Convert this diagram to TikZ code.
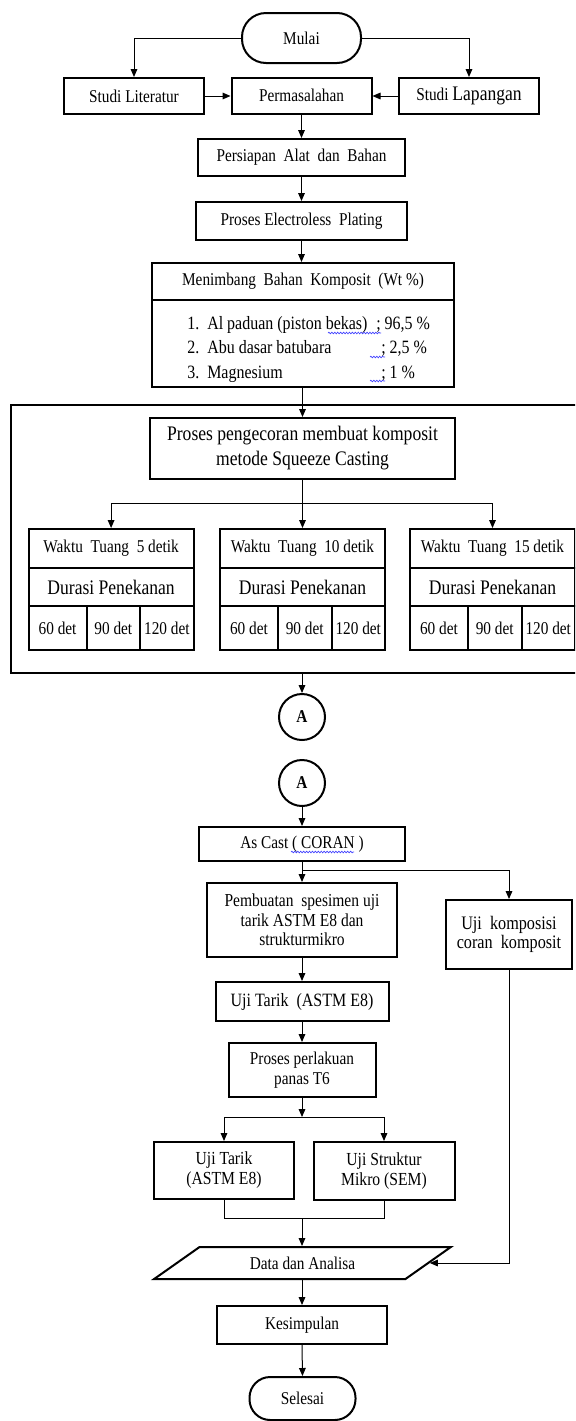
\documentclass[tikz,border=0pt]{standalone}
\usepackage{fontspec}
\setmainfont{Liberation Serif}[FakeStretch=0.85]
\usetikzlibrary{arrows.meta,shapes.geometric,calc,decorations.pathmorphing}
\begin{document}
\begin{tikzpicture}[x=0.75pt,y=-0.75pt,
  sz/.style 2 args={minimum width=#1*0.75pt, minimum height=#2*0.75pt},
  txt/.style={font=\fontsize{13.5pt}{15pt}\selectfont},
  big/.style={font=\fontsize{15.5pt}{18.75pt}\selectfont},
  lst/.style={font=\fontsize{14.1pt}{16pt}\selectfont, inner sep=0pt},
  box/.style={draw, line width=1.5pt, align=center, inner sep=1pt, txt},
  term/.style={box, rounded corners=#1},
  circ/.style={draw, circle, line width=1.5pt, minimum size=34.5pt, inner sep=0pt, font=\fontsize{13.5pt}{15pt}\selectfont\bfseries},
  conn/.style={line width=0.75pt},
  arr/.style={line width=0.75pt, -{Triangle[length=6pt,width=5pt]}},
  wavy/.style={blue!75!white, line width=0.5pt, decorate, decoration={snake, amplitude=0.6pt, segment length=2.2pt}}
]
\clip (0,0) rectangle (575,1421);
\fill[white] (0,0) rectangle (575,1421);

% top section
\node[term=18pt, sz={119}{50}] (mulai) at (301.5,38) {Mulai};
\node[box, sz={139.5}{36}] (lit) at (134,96) {Studi Literatur};
\node[box, sz={140}{36}] (perm) at (301.5,95.5) {Permasalahan};
\node[box, sz={140}{36}] (lap) at (469,96) {Studi {\fontsize{15.5pt}{17pt}\selectfont Lapangan}};
\node[box, sz={207}{37}] (prep) at (301.5,157.5) {Persiapan\ \ Alat\ \ dan\ \ Bahan};
\node[box, sz={211.5}{38}] (elec) at (301.5,221) {Proses Electroless\ \ Plating};
\node[box, sz={302}{37}] (mhead) at (303,281.5) {Menimbang\ \ Bahan\ \ Komposit\ \ (Wt \%)};
\node[box, sz={302}{87}] (mlist) at (303,343.5) {};
\node[lst, anchor=base west] (n1) at (187,329) {1.};
\node[lst, anchor=base west] (n2) at (187,353) {2.};
\node[lst, anchor=base west] (n3) at (187,378) {3.};
\node[lst, anchor=base west] (i1) at (207,329) {Al paduan (piston bekas)};
\node[lst, anchor=base west] (i2) at (207,353) {Abu dasar batubara};
\node[lst, anchor=base west] (i3) at (207,378) {Magnesium};
\node[lst, anchor=base west] (v1) at (376,329) {; 96,5 \%};
\node[lst, anchor=base west] (v2) at (381,353) {; 2,5 \%};
\node[lst, anchor=base west] (v3) at (381,378) {; 1 \%};
\draw[wavy] (328,333) -- (381,333);
\draw[wavy] (370,357) -- (385,357);
\draw[wavy] (370,381) -- (385,381);

\draw[arr] (mulai.west) -| (lit.north);
\draw[arr] (mulai.east) -| (lap.north);
\draw[arr] (lit.east) -- (lit.east -| perm.west);
\draw[arr] (lap.west) -- (lap.west -| perm.east);
\draw[arr] (perm.south) -- (prep.north);
\draw[arr] (prep.south) -- (elec.north);
\draw[arr] (elec.south) -- (elec.south |- mhead.north);

% casting frame
\node[box, sz={600}{268}] (frame) at (311,539) {};
\node[box, big, sz={305}{61}] (cast) at (302.5,448.5) {Proses pengecoran membuat komposit\\metode Squeeze Casting};
\draw[arr] (mlist.south -| cast.north) -- (cast.north);
\foreach \i/\L/\t in {1/28.6/5,2/220/10,3/410/15}{
  \node[box, sz={165}{39}] (w\i) at (\L+82.5,548.5) {Waktu\ \ Tuang\ \ \t\ detik};
  \node[box, big, sz={165}{38}] (d\i) at (\L+82.5,587) {Durasi Penekanan};
  \node[box, sz={58}{44}] (c\i a) at (\L+29,628) {60 det};
  \node[box, sz={53.5}{44}] (c\i b) at (\L+84.75,628) {90 det};
  \node[box, sz={53.5}{44}] (c\i c) at (\L+138.25,628) {120 det};
}
\coordinate (s1) at (302.5,503);
\draw[arr] (cast.south) -- (w2.north);
\draw[arr] (s1) -| (w1.north);
\draw[arr] (s1) -| (w3.north);

% connectors A
\node[circ] (a1) at (302,717) {A};
\node[circ] (a2) at (302,783) {A};
\draw[arr] (a1 |- frame.south) -- (a1.north);

% lower section
\node[box, sz={206.5}{34}] (ascast) at (302,844) {As Cast ( CORAN )};
\draw[wavy] (291,852) -- (354,852);
\draw[arr] (a2.south) -- (ascast.north);
\node[box, sz={190}{74}, font=\fontsize{13.7pt}{14.6pt}\selectfont] (pemb) at (302,920) {Pembuatan\ \ spesimen uji\\tarik ASTM E8 dan\\strukturmikro};
\node[box, sz={126.5}{69}, font=\fontsize{14.3pt}{14.4pt}\selectfont] (komp) at (509,934.5) {Uji\ \ komposisi\\coran\ \ komposit};
\coordinate (s2) at (302,870);
\draw[arr] (ascast.south) -- (pemb.north);
\draw[arr] (s2) -| (komp.north);
\node[box, sz={173}{39}, font=\fontsize{14.1pt}{15pt}\selectfont] (tarik) at (302,1001.5) {Uji Tarik\ \ (ASTM E8)};
\draw[arr] (pemb.south) -- (tarik.north);
\node[box, sz={147}{54}, font=\fontsize{13.5pt}{15pt}\selectfont] (t6) at (302,1070) {Proses perlakuan\\panas T6};
\draw[arr] (tarik.south) -- (t6.north);
\coordinate (s3) at (302,1117);
\draw[arr] (t6.south) -- (s3);
\node[box, sz={139.4}{57}, font=\fontsize{13.8pt}{15pt}\selectfont] (ut2) at (224,1170.5) {Uji Tarik\\(ASTM E8)};
\node[box, sz={141}{58}, font=\fontsize{13.8pt}{15pt}\selectfont] (sem) at (384,1171) {Uji Struktur\\Mikro (SEM)};
\draw[arr] (s3) -| (ut2.north);
\draw[arr] (s3) -| (sem.north);
\coordinate (j) at (302,1218);
\draw[conn] (ut2.south) |- (j) -| (sem.south);
\node[draw, trapezium, trapezium left angle=28.6, trapezium right angle=151.4, trapezium stretches=true,
      minimum width=297*0.75pt, minimum height=32*0.75pt, line width=1.5pt, inner sep=0pt, txt] (data) at (302.5,1263) {Data dan Analisa};
\draw[arr] (j) -- (j |- data.north);
\draw[arr] (komp.south) |- ($(data.top right corner)!.5!(data.bottom right corner)$);
\node[box, sz={170.6}{38}] (kes) at (302,1325) {Kesimpulan};
\draw[arr] (kes.north |- data.south) -- (kes.north);
\node[term=15.5pt, sz={106}{43}] (sel) at (302.5,1398.5) {Selesai};
\draw[arr] (kes.south) -- (sel.north);
\end{tikzpicture}
\end{document}
